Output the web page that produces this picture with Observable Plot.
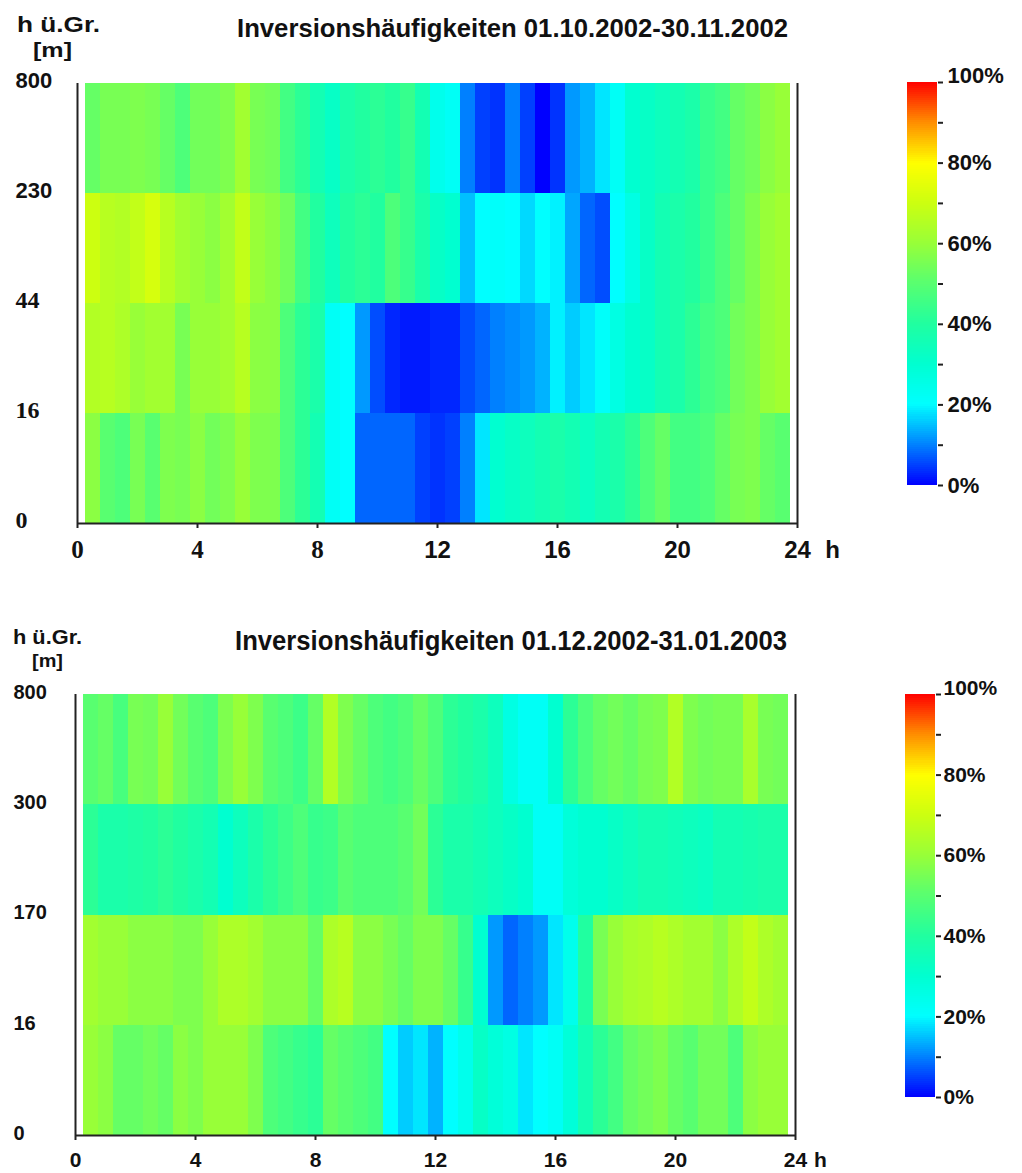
<!DOCTYPE html>
<html><head><meta charset="utf-8">
<script src="https://cdn.jsdelivr.net/npm/d3@7"></script>
<script src="https://cdn.jsdelivr.net/npm/@observablehq/plot@0.6"></script>
<style>
body{margin:0;background:#fff;}
#page{position:relative;width:1022px;height:1173px;overflow:hidden;background:#fff;}
#page svg{position:absolute;}
</style></head><body><div id="page"></div>
<script>
// half-hourly time steps (hours)
const hours = [0.5,1,1.5,2,2.5,3,3.5,4,4.5,5,5.5,6,6.5,7,7.5,8,8.5,9,9.5,10,10.5,11,11.5,12,12.5,13,13.5,14,14.5,15,15.5,16,16.5,17,17.5,18,18.5,19,19.5,20,20.5,21,21.5,22,22.5,23,23.5];
const xTicks = [0,4,8,12,16,20,24];

// Chart 1: 01.10.2002-30.11.2002 (inversion frequency, %)
const title1 = "Inversionshäufigkeiten 01.10.2002-30.11.2002";
const heightLabels1 = ["0","16","44","230","800"];
const c1_0_16    = [58,50,48,55,50,56,55,58,54,56,60,56,56,48,42,36,22,20,8,8,8,8,5,4,5,10,18,30,32,34,36,38,36,33,36,38,42,48,52,46,46,48,52,55,56,52,50];
const c1_16_44   = [65,66,64,60,62,62,55,60,60,62,66,58,58,48,42,38,22,20,12,6,3,2,2,3,3,6,8,10,11,12,14,19,16,18,21,26,30,32,36,38,42,46,48,54,56,60,62];
const c1_44_230  = [70,66,65,68,72,66,62,60,58,62,68,60,58,54,46,40,34,40,42,40,48,44,38,32,30,15,20,21,20,17,20,19,13,8,6,20,26,32,36,38,40,44,48,52,56,60,62];
const c1_230_800 = [52,55,55,56,55,52,48,54,54,56,62,55,54,46,42,36,32,38,40,42,40,44,36,24,22,10,5,4,10,5,0,4,12,14,18,22,30,32,34,36,38,44,46,52,54,58,60];

// Chart 2: 01.12.2002-31.01.2003
const title2 = "Inversionshäufigkeiten 01.12.2002-31.01.2003";
const heightLabels2 = ["0","16","170","300","800"];
const c2_0_16    = [60,58,52,52,54,52,58,56,60,60,60,56,48,46,44,42,52,50,48,46,20,16,18,14,20,24,32,28,26,18,20,22,28,36,42,46,52,54,56,52,50,54,54,48,58,60,60];
const c2_16_170  = [62,60,60,58,58,58,56,56,60,64,64,62,58,58,58,52,64,66,58,58,55,52,56,56,52,44,30,12,8,10,12,18,24,40,55,60,63,64,66,64,62,62,58,64,68,64,62];
const c2_170_300 = [42,38,38,39,40,42,40,38,36,30,34,38,42,45,48,44,45,50,48,48,48,50,54,42,38,38,36,34,32,30,22,22,28,30,30,32,34,36,36,35,34,33,36,36,37,38,38];
const c2_300_800 = [50,52,47,55,54,60,54,50,48,56,60,56,50,48,45,52,65,56,52,48,46,48,52,48,42,40,38,34,26,22,22,30,42,48,52,54,52,55,56,65,56,54,55,55,63,55,54];

// colour bar
const colorStops = [0,10,20,30,40,50,60,70,80,90,100];
const colorRange = ["#0000ff","#0080ff","#00ffff","#00ffd0","#20ffa0","#58ff70","#98ff38","#ccff10","#ffff00","#ff8c00","#ff0000"];
const legendLabelTicks = [0,20,40,60,80];
const legendMinorTicks = [0,10,20,30,40,50,60,70,80,90,100];

const colorScale = {type: "linear", domain: colorStops, range: colorRange, interpolate: "rgb"};
const SANS = "'Liberation Sans', Arial, sans-serif";
const SERIF = "'Liberation Serif', 'Times New Roman', serif";

function heatmap(rows, labels, cfg) {
  const cells = [];
  rows.forEach((vals, r) => vals.forEach((v, i) => cells.push({t: hours[i], r, v})));
  const marks = [
    Plot.rect(cells, {x1: d => d.t - 0.25, x2: d => d.t + 0.25, y1: "r", y2: d => d.r + 1, fill: "v", shapeRendering: "crispEdges"}),
    Plot.ruleX([0, 24], {stroke: "#222", strokeWidth: 2}),
    Plot.ruleY([0], {stroke: "#222", strokeWidth: 2})
  ];
  cfg.xGroups.forEach(g => marks.push(Plot.axisX({
    ticks: g.ticks, tickSize: 5, tickPadding: cfg.xPad, strokeWidth: 2, stroke: "#222", label: null,
    tickFormat: d => String(d), fontFamily: g.font, fontSize: g.size, fontWeight: "bold", fill: "#111"
  })));
  cfg.yGroups.forEach(g => marks.push(Plot.axisY({
    ticks: g.ticks, tickSize: 0, tickPadding: cfg.yPad, textAnchor: "start", dy: cfg.yDy, label: null,
    tickFormat: i => labels[i], fontFamily: g.font, fontSize: g.size, fontWeight: "bold", fill: "#111"
  })));
  marks.push(Plot.text(["h"], {x: () => 24, frameAnchor: "bottom", lineAnchor: "top", dy: 5 + cfg.xPad, dx: cfg.hDx,
    fontFamily: SANS, fontSize: cfg.hSize, fontWeight: "bold", fill: "#111"}));
  const svg = Plot.plot({
    width: cfg.width, height: cfg.height,
    marginLeft: cfg.ml, marginRight: cfg.mr, marginTop: cfg.mt, marginBottom: cfg.mb,
    x: {domain: [0, 24], label: null},
    y: {domain: [0, 4], label: null},
    color: colorScale,
    style: {background: "transparent", overflow: "visible"},
    marks
  });
  svg.style.left = cfg.left + "px";
  svg.style.top = cfg.top + "px";
  return svg;
}

function legendBar(cfg) {
  const steps = d3.range(0, 100, 0.5);
  const svg = Plot.plot({
    width: 142, height: 450,
    marginLeft: cfg.ml, marginRight: 142 - cfg.ml - 30, marginTop: cfg.mt, marginBottom: 450 - cfg.mt - cfg.h,
    x: {domain: [0, 1], axis: null},
    y: {domain: [0, 100], label: null},
    color: colorScale,
    style: {background: "transparent", overflow: "visible"},
    marks: [
      Plot.rect(steps, {x1: 0, x2: 1, y1: d => d, y2: d => d + 0.5, fill: d => d + 0.25, shapeRendering: "crispEdges"}),
      Plot.axisY({anchor: "right", ticks: legendMinorTicks, tickSize: 5, strokeWidth: 2, stroke: "#222", tickFormat: () => "", label: null}),
      Plot.axisY({anchor: "right", ticks: legendLabelTicks, tickSize: 0, tickPadding: cfg.pad, tickFormat: d => d + "%", label: null,
        fontFamily: SANS, fontSize: cfg.size, fontWeight: "bold", fill: "#111"}),
      Plot.axisY({anchor: "right", ticks: [100], tickSize: 0, tickPadding: cfg.pad, dy: cfg.topDy, tickFormat: d => d + "%", label: null,
        fontFamily: SANS, fontSize: cfg.size, fontWeight: "bold", fill: "#111"})
    ]
  });
  svg.style.left = cfg.left + "px";
  svg.style.top = cfg.top + "px";
  return svg;
}

const page = document.getElementById("page");

page.appendChild(heatmap([c1_0_16, c1_16_44, c1_44_230, c1_230_800], heightLabels1, {
  left: 0, top: 0, width: 870, height: 580, ml: 77, mr: 73, mt: 83, mb: 57,
  xPad: 12, yPad: 62, yDy: -3, hDx: 35, hSize: 24,
  xGroups: [{ticks: [0,4,8], font: SERIF, size: 25}, {ticks: [12,16,20,24], font: SANS, size: 24}],
  yGroups: [{ticks: [3,4], font: SANS, size: 22}, {ticks: [0,1,2], font: SERIF, size: 24}]
}));

page.appendChild(heatmap([c2_0_16, c2_16_170, c2_170_300, c2_300_800], heightLabels2, {
  left: 0, top: 600, width: 870, height: 573, ml: 75, mr: 75, mt: 94, mb: 38,
  xPad: 12, yPad: 62, yDy: -2, hDx: 25, hSize: 21,
  xGroups: [{ticks: xTicks, font: SANS, size: 21}],
  yGroups: [{ticks: [0,1,2,3,4], font: SANS, size: 20}]
}));

page.appendChild(legendBar({left: 880, top: 60, ml: 27, mt: 22, h: 403, pad: 10, size: 22, topDy: -7}));
page.appendChild(legendBar({left: 880, top: 670, ml: 25, mt: 24, h: 403, pad: 8, size: 21, topDy: -6}));

// titles and axis unit labels
const NS = "http://www.w3.org/2000/svg";
const over = document.createElementNS(NS, "svg");
over.setAttribute("width", 1022); over.setAttribute("height", 1173);
over.style.left = "0px"; over.style.top = "0px";
const texts = [
  {s: title1, x: 237, y: 37, size: 25, len: 551},
  {s: "h ü.Gr.", x: 17, y: 32, size: 22, len: 83},
  {s: "[m]", x: 33, y: 57, size: 21, len: 39},
  {s: title2, x: 235, y: 650, size: 28, len: 552},
  {s: "h ü.Gr.", x: 13, y: 644, size: 21, len: 69},
  {s: "[m]", x: 32, y: 667, size: 19, len: 31}
];
texts.forEach(t => {
  const el = document.createElementNS(NS, "text");
  el.setAttribute("x", t.x); el.setAttribute("y", t.y);
  el.setAttribute("font-family", "'Liberation Sans Narrow', 'Liberation Sans', Arial, sans-serif");
  el.setAttribute("font-weight", "bold");
  el.setAttribute("font-size", t.size);
  el.setAttribute("fill", "#111");
  el.setAttribute("textLength", t.len);
  el.setAttribute("lengthAdjust", "spacingAndGlyphs");
  el.textContent = t.s;
  over.appendChild(el);
});
page.appendChild(over);
</script></body></html>
